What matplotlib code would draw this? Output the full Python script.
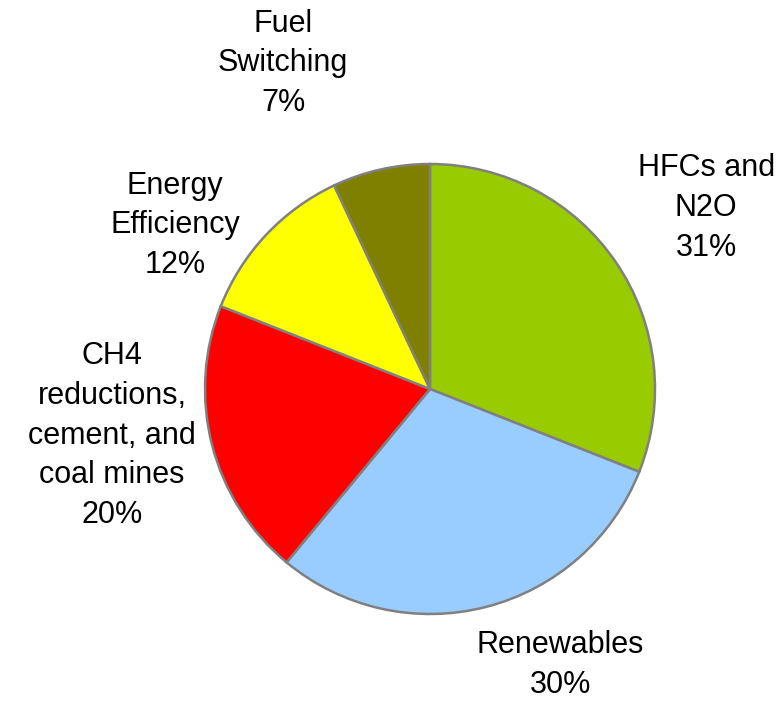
import matplotlib
matplotlib.use("Agg")
import matplotlib.pyplot as plt

# Share of emission reductions by project type
categories = ["HFCs and\nN2O", "Renewables",
              "CH4\nreductions,\ncement, and\ncoal mines",
              "Energy\nEfficiency", "Fuel\nSwitching"]
shares = [31, 30, 20, 12, 7]
colors = ["#99CC00", "#99CCFF", "#FF0000", "#FFFF00", "#808000"]

# label centres in data units (pie radius = 1)
label_pos = [(1.227, 0.805), (0.578, -1.228), (-1.413, -0.208),
             (-1.133, 0.727), (-0.653, 1.447)]

plt.rcParams["font.family"] = ["Liberation Sans", "DejaVu Sans"]

W, H = 784, 701
fig = plt.figure(figsize=(W / 100, H / 100), dpi=100)
cx, cy, r = 430, 389, 225
ax = fig.add_axes([(cx - r) / W, (H - cy - r) / H, 2 * r / W, 2 * r / H])

ax.pie(shares, colors=colors, startangle=90, counterclock=False,
       radius=1, wedgeprops=dict(edgecolor="#808080", linewidth=1.8))
ax.set_xlim(-1, 1)
ax.set_ylim(-1, 1)
ax.set_aspect("equal")
ax.axis("off")

for name, val, (x, y) in zip(categories, shares, label_pos):
    ax.text(x, y, f"{name}\n{val}%", ha="center", va="center",
            fontsize=22, linespacing=1.42, color="black", clip_on=False)

fig.savefig("out.png", dpi=100)
